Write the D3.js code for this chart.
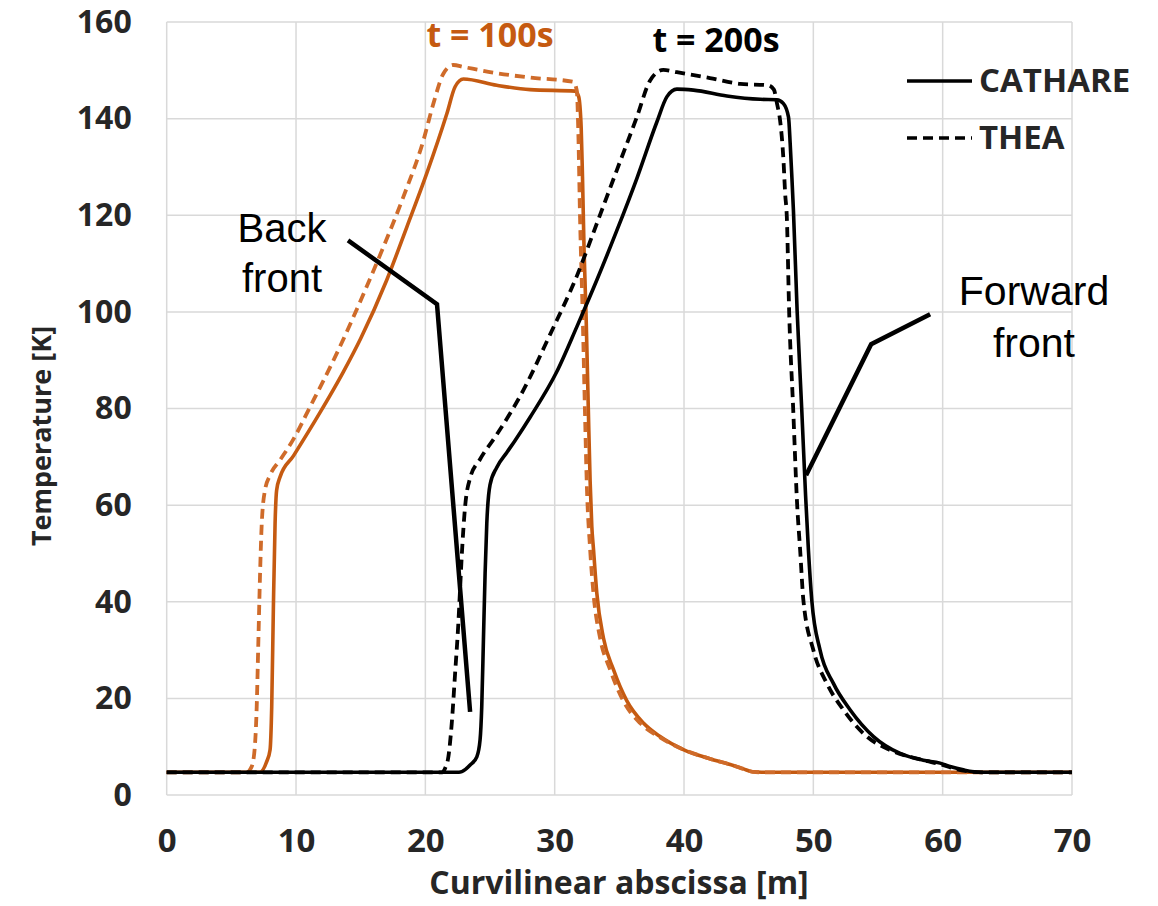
<!DOCTYPE html>
<html>
<head>
<meta charset="utf-8">
<script src="https://cdn.jsdelivr.net/npm/d3@7"></script>
<style>
  html, body { margin: 0; padding: 0; background: #fff; }
  svg { display: block; }
</style>
</head>
<body>
<svg id="chart" width="1158" height="906"></svg>
<script>
// ---- data ----
const xTicks = [0, 10, 20, 30, 40, 50, 60, 70];
const yTicks = [0, 20, 40, 60, 80, 100, 120, 140, 160];

const cathare100 = [[0,4.7],[7.2,4.7],[7.73,6.9],[7.99,9.3],[8.12,18.3],[8.25,39],[8.38,56.2],[8.5,63.1],[8.76,65.8],[9.8,70.2],[11.86,79.2],[13.66,87.6],[15,94.5],[17,106.5],[18.56,117.5],[20.1,128.6],[21.66,141],[22.3,146.6],[22.94,148.2],[25.52,146.9],[28.1,146],[31.58,145.7],[31.85,144.6],[32.05,138],[32.15,128],[32.27,113],[32.43,99],[32.6,80],[32.74,65],[32.87,55.6],[33,50.9],[33.26,41.7],[33.77,32.5],[34.54,26],[35.58,19.5],[36.86,14.9],[38.15,12.1],[39.95,9.4],[42,7.5],[43.82,6.1],[44.6,5.4],[45.3,4.8],[46,4.7],[70,4.7]];

const thea100 = [[0,4.7],[6.2,4.7],[6.5,5.5],[6.7,7.2],[6.96,18.3],[7.09,32.1],[7.22,45.9],[7.35,56.2],[7.6,63.1],[7.99,66.2],[8.76,69.3],[9.79,73.6],[11.08,80.3],[13.15,91.4],[15.2,103.6],[16.75,113.4],[18.3,123.8],[19.85,135.5],[20.62,143.1],[21.39,149.3],[22.17,151.1],[22.94,150.7],[25.52,149.4],[28.1,148.5],[31.45,147.6],[31.71,145.8],[31.83,136.9],[31.96,119.6],[32.17,98.9],[32.35,78.3],[32.48,64.6],[32.74,50.9],[33.0,41.7],[33.51,32.5],[34.28,26],[35.3,19.5],[36.6,14.9],[38.1,12],[39.95,9.4],[42,7.5],[43.82,6.1],[44.6,5.4],[45.3,4.8],[46,4.7],[70,4.7]];

const cathare200 = [[0,4.7],[22.6,4.7],[23.1,5.3],[23.46,6.2],[23.98,7.9],[24.23,11.4],[24.36,18.3],[24.49,32.1],[24.62,45.9],[24.75,56.2],[25.0,64.2],[25.52,67.8],[26.3,70.9],[26.94,73.4],[28.1,78.2],[30.16,87.6],[31.71,96.9],[33.26,106.6],[34.8,116.8],[36.35,127.6],[37.9,139.3],[38.67,144.5],[39.45,146.1],[40.73,145.9],[43.31,144.7],[45.89,144],[47.17,143.9],[47.69,143.1],[48.08,140.3],[48.21,134.8],[48.34,127.9],[48.46,121],[48.75,100],[49.1,80],[49.4,62],[49.62,50.7],[49.88,40.3],[50.52,30],[51.55,23.1],[52.85,17.6],[54.65,12.1],[56.71,8.6],[58.5,7.2],[59.8,6.6],[60.57,5.9],[61.6,5.2],[62.9,4.7],[70,4.7]];

const thea200 = [[0,4.7],[21.3,4.7],[21.52,5.5],[21.78,7.9],[22.04,14.8],[22.3,25.2],[22.55,35.5],[22.68,42.4],[22.81,49.3],[23.07,59.6],[23.46,65.6],[24.23,69.5],[25.52,74.6],[27.58,83.8],[29.64,95.3],[31.71,107.4],[33.26,118.3],[34.8,129.3],[36.35,140.3],[37.38,147.9],[38.4,150.1],[39.45,149.6],[42,148.4],[44.34,147.2],[46.5,146.9],[46.95,146],[47.2,143],[47.43,139.6],[47.69,131.4],[47.82,124.5],[47.95,119.6],[48.13,100],[48.44,80],[48.75,60],[48.98,50.7],[49.23,40.3],[50,30],[51.04,23.1],[52.33,17.6],[54.14,12.1],[55.94,9.3],[58.52,7.2],[60.06,6.2],[61.1,5.3],[62.38,4.8],[63,4.7],[70,4.7]];

// annotation pointers (data units)
const backFrontPointer = [[14.02,114.8],[20.9,101.6],[23.46,17.2]];
const forwardFrontPointer = [[59.03,99.5],[54.47,93.3],[49.44,66.2]];

const seriesNames = ["CATHARE", "THEA"];
const timeLabels = ["t = 100s", "t = 200s"];

// ---- layout ----
const svg = d3.select("#chart");
const margin = {left: 166.7, right: 1072, top: 22, bottom: 795};
const x = d3.scaleLinear().domain([0, 70]).range([margin.left, margin.right]);
const y = d3.scaleLinear().domain([0, 160]).range([margin.bottom, margin.top]);

const orange = "#c55a11";
const orangeDash = "#cf6b2a";
const textCol = "#262626";
const tickFont = "'Open Sans', sans-serif";

// grid
const grid = svg.append("g");
grid.selectAll("line.h").data(yTicks).join("line")
  .attr("x1", x(0)).attr("x2", x(70))
  .attr("y1", d => y(d)).attr("y2", d => y(d))
  .attr("stroke", "#d9d9d9").attr("stroke-width", 1.5);
grid.selectAll("line.v").data(xTicks).join("line")
  .attr("y1", y(0)).attr("y2", y(160))
  .attr("x1", d => x(d)).attr("x2", d => x(d))
  .attr("stroke", "#d9d9d9").attr("stroke-width", 1.5);

// axes via d3 axis
const xAxis = svg.append("g").attr("transform", `translate(0,${y(0)})`)
  .call(d3.axisBottom(x).tickValues(xTicks).tickSize(0).tickPadding(34));
xAxis.select(".domain").remove();
xAxis.selectAll("text").attr("font-family", tickFont).attr("font-weight", 700)
  .attr("font-size", 33).attr("fill", textCol);

const yAxis = svg.append("g").attr("transform", `translate(${x(0)},0)`)
  .call(d3.axisLeft(y).tickValues(yTicks).tickSize(0).tickPadding(35));
yAxis.select(".domain").remove();
yAxis.selectAll("text").attr("font-family", tickFont).attr("font-weight", 700)
  .attr("font-size", 32).attr("fill", textCol);

// axis titles
svg.append("text").attr("x", 619).attr("y", 894).attr("text-anchor", "middle")
  .attr("font-family", tickFont).attr("font-weight", 700).attr("font-size", 32)
  .attr("fill", textCol).text("Curvilinear abscissa [m]");
svg.append("text").attr("transform", `translate(51,436) rotate(-90)`).attr("text-anchor", "middle")
  .attr("font-family", tickFont).attr("font-weight", 700).attr("font-size", 27)
  .attr("fill", textCol).text("Temperature [K]");

// lines
const line = d3.line().x(d => x(d[0])).y(d => y(d[1])).curve(d3.curveMonotoneX);
const plot = svg.append("g");
plot.append("path").datum(cathare100).attr("d", line).attr("fill", "none")
  .attr("stroke", orange).attr("stroke-width", 3.6);
plot.append("path").datum(thea100).attr("d", line).attr("fill", "none")
  .attr("stroke", orangeDash).attr("stroke-width", 3.8).attr("stroke-dasharray", "10,6");
plot.append("path").datum(cathare200).attr("d", line).attr("fill", "none")
  .attr("stroke", "#000").attr("stroke-width", 3.6);
plot.append("path").datum(thea200).attr("d", line).attr("fill", "none")
  .attr("stroke", "#000").attr("stroke-width", 3.8).attr("stroke-dasharray", "10,6");

// pointers
const pline = d3.line().x(d => x(d[0])).y(d => y(d[1]));
[backFrontPointer, forwardFrontPointer].forEach(p => {
  svg.append("path").datum(p).attr("d", pline).attr("fill", "none")
    .attr("stroke", "#000").attr("stroke-width", 4.5).attr("stroke-linejoin", "miter");
});

// annotation texts
const annFont = "'Liberation Sans', Arial, sans-serif";
function ann(lines, cx, y0, dy, fs) {
  lines.forEach((t, i) => {
    svg.append("text").attr("x", cx).attr("y", y0 + i * dy).attr("text-anchor", "middle")
      .attr("font-family", annFont).attr("font-size", fs).attr("fill", "#000").text(t);
  });
}
ann(["Back", "front"], 282, 242, 50, 40);
ann(["Forward", "front"], 1034, 305, 52, 41);

// time labels
svg.append("text").attr("x", 490).attr("y", 47).attr("text-anchor", "middle")
  .attr("font-family", tickFont).attr("font-weight", 700).attr("font-size", 34)
  .attr("fill", orange).text(timeLabels[0]);
svg.append("text").attr("x", 716).attr("y", 52).attr("text-anchor", "middle")
  .attr("font-family", tickFont).attr("font-weight", 700).attr("font-size", 34)
  .attr("fill", "#000").text(timeLabels[1]);

// legend
const leg = svg.append("g");
const legendRows = [{name: seriesNames[0], dash: null, yy: 81}, {name: seriesNames[1], dash: "10,6", yy: 138}];
legendRows.forEach(r => {
  leg.append("line").attr("x1", 907).attr("x2", 972).attr("y1", r.yy).attr("y2", r.yy)
    .attr("stroke", "#000").attr("stroke-width", 3.5)
    .attr("stroke-dasharray", r.dash);
  leg.append("text").attr("x", 979).attr("y", r.yy + 11)
    .attr("font-family", tickFont).attr("font-weight", 700).attr("font-size", 33)
    .attr("fill", textCol).text(r.name);
});
</script>
</body>
</html>
